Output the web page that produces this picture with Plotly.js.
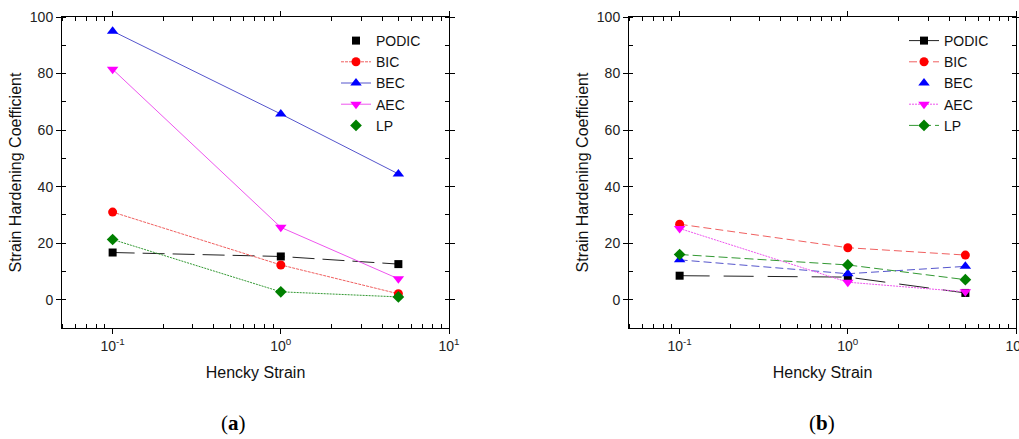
<!DOCTYPE html>
<html>
<head>
<meta charset="utf-8">
<script src="https://cdn.plot.ly/plotly-3.0.1.min.js"></script>
<style>html,body{margin:0;padding:0;background:#fff;}#chart{width:1019px;height:439px;}</style>
</head>
<body>
<div id="chart"></div>
<script>
// Hencky strain values (x)
const strain = [0.1, 1, 5];

// Panel (a)
const a_PODIC = [16.7, 15.3, 12.6];
const a_BIC   = [31.0, 12.3, 2.1];
const a_BEC   = [95.0, 65.7, 44.5];
const a_AEC   = [81.5, 25.6, 7.4];
const a_LP    = [21.3, 2.8, 1.0];

// Panel (b)
const b_PODIC = [8.5, 8.0, 2.4];
const b_BIC   = [26.7, 18.4, 15.8];
const b_BEC   = [14.1, 9.2, 11.8];
const b_AEC   = [25.2, 6.2, 2.8];
const b_LP    = [16.0, 12.3, 7.1];

const seriesNames = ['PODIC', 'BIC', 'BEC', 'AEC', 'LP'];
const xTickVals = [0.1, 1, 10];
const xTickText = ['10<sup>-1</sup>', '10<sup>0</sup>', '10<sup>1</sup>'];

const colors = {PODIC:'#000000', BIC:'#ff0000', BEC:'#0000ff', AEC:'#ff00ff', LP:'#008000'};
const lineColors = {PODIC:'#222222', BIC:'#f06060', BEC:'#5555cc', AEC:'#ee55ee', LP:'#339933'};
const symbols = {PODIC:'square', BIC:'circle', BEC:'triangle-up', AEC:'triangle-down', LP:'diamond'};
const msize = {PODIC:8, BIC:9, BEC:10, AEC:10, LP:9};

const aVals = {PODIC:a_PODIC, BIC:a_BIC, BEC:a_BEC, AEC:a_AEC, LP:a_LP};
const bVals = {PODIC:b_PODIC, BIC:b_BIC, BEC:b_BEC, AEC:b_AEC, LP:b_LP};

const aDash = {PODIC:'22px,8px', BIC:'3px,1px', BEC:'solid', AEC:'solid', LP:'2px,1px'};
const bDash = {PODIC:'30px,14px', BIC:'8px,4px', BEC:'8px,4px', AEC:'2px,1px', LP:'9px,4px'};
// whether legend shows line for each series
const aLegendLine = {PODIC:false, BIC:true, BEC:true, AEC:true, LP:false};
const bLegendLine = {PODIC:true, BIC:true, BEC:false, AEC:true, LP:true};

const traces = [];
function addPanel(vals, dashes, legLine, xa, ya, leg) {
  seriesNames.forEach(function(n) {
    if (legLine[n]) {
      traces.push({x: strain, y: vals[n], name: n, xaxis: xa, yaxis: ya, legend: leg,
        mode: 'lines+markers', type: 'scatter',
        line: {color: lineColors[n], width: 1, dash: dashes[n]},
        marker: {color: colors[n], symbol: symbols[n], size: msize[n]}});
    } else {
      traces.push({x: strain, y: vals[n], name: n, xaxis: xa, yaxis: ya, legend: leg,
        mode: 'lines', type: 'scatter', showlegend: false, hoverinfo: 'skip',
        line: {color: lineColors[n], width: 1, dash: dashes[n]}});
      traces.push({x: strain, y: vals[n], name: n, xaxis: xa, yaxis: ya, legend: leg,
        mode: 'markers', type: 'scatter',
        marker: {color: colors[n], symbol: symbols[n], size: msize[n]}});
    }
  });
}
addPanel(aVals, aDash, aLegendLine, 'x', 'y', 'legend');
addPanel(bVals, bDash, bLegendLine, 'x2', 'y2', 'legend2');

const minorX = [];
[0.01, 0.1, 1].forEach(function(d) { for (let k = 2; k <= 9; k++) minorX.push(+(k * d).toFixed(4)); });

const tickFont = {family: 'Liberation Sans, Arial, sans-serif', size: 14, color: '#222'};
const titleFont = {family: 'Liberation Sans, Arial, sans-serif', size: 16, color: '#111'};

function xAxis(domain, anchor) {
  return {type: 'log', domain: domain, anchor: anchor, range: [Math.log10(0.05), 1],
    tickmode: 'array', tickvals: xTickVals, ticktext: xTickText,
    ticks: 'outside', ticklen: 5, tickcolor: '#000', tickwidth: 1,
    ticklabeloverflow: 'allow',
    minor: {tickmode: 'array', tickvals: minorX, ticks: 'inside', ticklen: 4, tickcolor: '#000'},
    showline: true, linecolor: '#000', linewidth: 1, mirror: 'allticks',
    showgrid: false, zeroline: false, tickfont: tickFont,
    title: {text: 'Hencky Strain', font: titleFont, standoff: 14}};
}
function yAxis(domain, anchor) {
  return {domain: domain, anchor: anchor, range: [-10, 100],
    tickmode: 'linear', tick0: 0, dtick: 20,
    ticks: 'outside', ticklen: 5, tickcolor: '#000', tickwidth: 1,
    minor: {dtick: 10, ticks: 'inside', ticklen: 4, tickcolor: '#000'},
    showline: true, linecolor: '#000', linewidth: 1, mirror: 'allticks',
    showgrid: false, zeroline: false, tickfont: tickFont,
    title: {text: 'Strain Hardening Coefficient', font: titleFont, standoff: 4}};
}

const yDom = [1 - 328/439, 1 - 17/439];
const legendFont = {family: 'Liberation Sans, Arial, sans-serif', size: 14, color: '#111'};

const layout = {
  width: 1019, height: 439,
  margin: {l: 0, r: 0, t: 0, b: 0},
  paper_bgcolor: '#fff', plot_bgcolor: '#fff',
  xaxis: xAxis([62/1019, 449/1019], 'y'),
  yaxis: yAxis(yDom, 'x'),
  xaxis2: xAxis([629/1019, 1016/1019], 'y2'),
  yaxis2: yAxis(yDom, 'x2'),
  legend: {x: 336/1019, y: 1 - 25/439, xanchor: 'left', yanchor: 'top', bgcolor: 'rgba(0,0,0,0)',
    font: legendFont, tracegroupgap: 0, itemwidth: 30},
  legend2: {x: 904/1019, y: 1 - 25/439, xanchor: 'left', yanchor: 'top', bgcolor: 'rgba(0,0,0,0)',
    font: legendFont, tracegroupgap: 0, itemwidth: 30},
  annotations: [
    {text: '(<b>a</b>)', x: 233/1019, y: 1 - 423/439, xref: 'paper', yref: 'paper', showarrow: false,
      xanchor: 'center', yanchor: 'middle', font: {family: 'Liberation Serif, Times New Roman, serif', size: 21, color: '#000'}},
    {text: '(<b>b</b>)', x: 822/1019, y: 1 - 423/439, xref: 'paper', yref: 'paper', showarrow: false,
      xanchor: 'center', yanchor: 'middle', font: {family: 'Liberation Serif, Times New Roman, serif', size: 21, color: '#000'}}
  ],
  showlegend: true
};

Plotly.newPlot('chart', traces, layout, {staticPlot: true, displayModeBar: false});
</script>
</body>
</html>
